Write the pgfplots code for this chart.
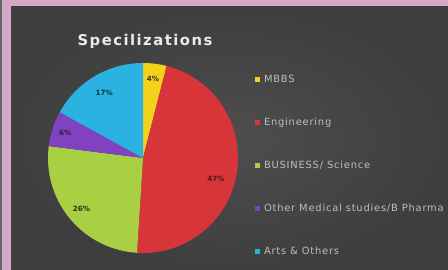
\documentclass[border=0pt]{standalone}
\usepackage{pgfplots}
\pgfplotsset{compat=1.18}
\usepackage{fontspec}
\setmainfont{DejaVu Sans}
\newfontfamily\titlefont[LetterSpace=10]{DejaVu Sans}
\newfontfamily\legfont[LetterSpace=8]{DejaVu Sans}
\definecolor{bgpink}{HTML}{D4A8C8}
\definecolor{bgdark}{HTML}{3E3E3E}
\definecolor{bglight}{HTML}{4E4E4E}
\definecolor{cMBBS}{HTML}{F2D21A}
\definecolor{cEng}{HTML}{D8353A}
\definecolor{cBus}{HTML}{A9D043}
\definecolor{cOth}{HTML}{8042C0}
\definecolor{cArts}{HTML}{2AB2E0}
\definecolor{legtext}{HTML}{BEBEBE}
% percentages
\def\pA{4}\def\pB{47}\def\pC{26}\def\pD{6}\def\pE{17}
\pgfmathsetmacro\aA{90}
\pgfmathsetmacro\aB{\aA-3.6*\pA}
\pgfmathsetmacro\aC{\aB-3.6*\pB}
\pgfmathsetmacro\aD{\aC-3.6*\pC}
\pgfmathsetmacro\aE{\aD-3.6*\pD}
\pgfmathsetmacro\aF{\aE-3.6*\pE}
\def\cx{143}\def\cy{112}\def\R{95}
\begin{document}
\begin{tikzpicture}[x=1pt,y=1pt]
\useasboundingbox (0,0) rectangle (448,270);
\fill[bgpink] (0,0) rectangle (448,270);
\fill[black!60] (0,0) rectangle (1.5,270);
\shade[inner color=bglight, outer color=bgdark] (11,0) rectangle (448,263);
\begin{axis}[
  at={(0,0)}, anchor=origin,
  x=1pt, y=1pt,
  xmin=0, xmax=448, ymin=0, ymax=270,
  hide axis, clip=false,
  legend style={at={(axis cs:255,197)}, anchor=north west, draw=none, fill=none,
    font=\legfont\fontsize{9.9}{10}\selectfont, text=legtext, row sep=30pt,
    inner sep=0pt, cells={anchor=west},
    /tikz/every even column/.append style={column sep=0pt}},
  legend image code/.code={\fill[#1] (0pt,-2.4pt) rectangle (4.8pt,2.4pt);},
]
\addplot[draw=none, fill=cMBBS, domain=\aB:\aA, samples=10] ({\cx+\R*cos(x)},{\cy+\R*sin(x)}) -- (axis cs:\cx,\cy) -- cycle;
\addlegendentry{\hspace{2pt}MBBS}
\addplot[draw=none, fill=cEng, domain=\aC:\aB, samples=80] ({\cx+\R*cos(x)},{\cy+\R*sin(x)}) -- (axis cs:\cx,\cy) -- cycle;
\addlegendentry{\hspace{2pt}Engineering}
\addplot[draw=none, fill=cBus, domain=\aD:\aC, samples=50] ({\cx+\R*cos(x)},{\cy+\R*sin(x)}) -- (axis cs:\cx,\cy) -- cycle;
\addlegendentry{\hspace{2pt}BUSINESS/ Science}
\addplot[draw=none, fill=cOth, domain=\aE:\aD, samples=15] ({\cx+\R*cos(x)},{\cy+\R*sin(x)}) -- (axis cs:\cx,\cy) -- cycle;
\addlegendentry{\hspace{2pt}Other Medical studies/B Pharma}
\addplot[draw=none, fill=cArts, domain=\aF:\aE, samples=30] ({\cx+\R*cos(x)},{\cy+\R*sin(x)}) -- (axis cs:\cx,\cy) -- cycle;
\addlegendentry{\hspace{2pt}Arts \& Others}
\pgfmathsetmacro\mA{(\aA+\aB)/2}
\pgfmathsetmacro\mB{(\aB+\aC)/2}
\pgfmathsetmacro\mC{(\aC+\aD)/2}
\pgfmathsetmacro\mD{(\aD+\aE)/2}
\pgfmathsetmacro\mE{(\aE+\aF)/2}
\node[font=\bfseries\fontsize{7.2}{8}\selectfont, text=black!80] at (axis cs:{\cx+0.84*\R*cos(\mA)},{\cy+0.84*\R*sin(\mA)}) {\pA\%};
\node[font=\bfseries\fontsize{7.2}{8}\selectfont, text=cEng!40!black] at (axis cs:{\cx+0.8*\R*cos(\mB-7)},{\cy+0.8*\R*sin(\mB-7)}) {\pB\%};
\node[font=\bfseries\fontsize{7.2}{8}\selectfont, text=cBus!25!black] at (axis cs:{\cx+0.84*\R*cos(\mC)},{\cy+0.84*\R*sin(\mC)}) {\pC\%};
\node[font=\bfseries\fontsize{7.2}{8}\selectfont, text=cOth!40!black] at (axis cs:{\cx+0.86*\R*cos(\mD)},{\cy+0.86*\R*sin(\mD)}) {\pD\%};
\node[font=\bfseries\fontsize{7.2}{8}\selectfont, text=cArts!30!black] at (axis cs:{\cx+0.8*\R*cos(\mE)},{\cy+0.8*\R*sin(\mE)}) {\pE\%};
\node[font=\titlefont\bfseries\fontsize{14.8}{16}\selectfont, text=white!92!black] at (axis cs:145,229) {Specilizations};
\end{axis}
\end{tikzpicture}
\end{document}
